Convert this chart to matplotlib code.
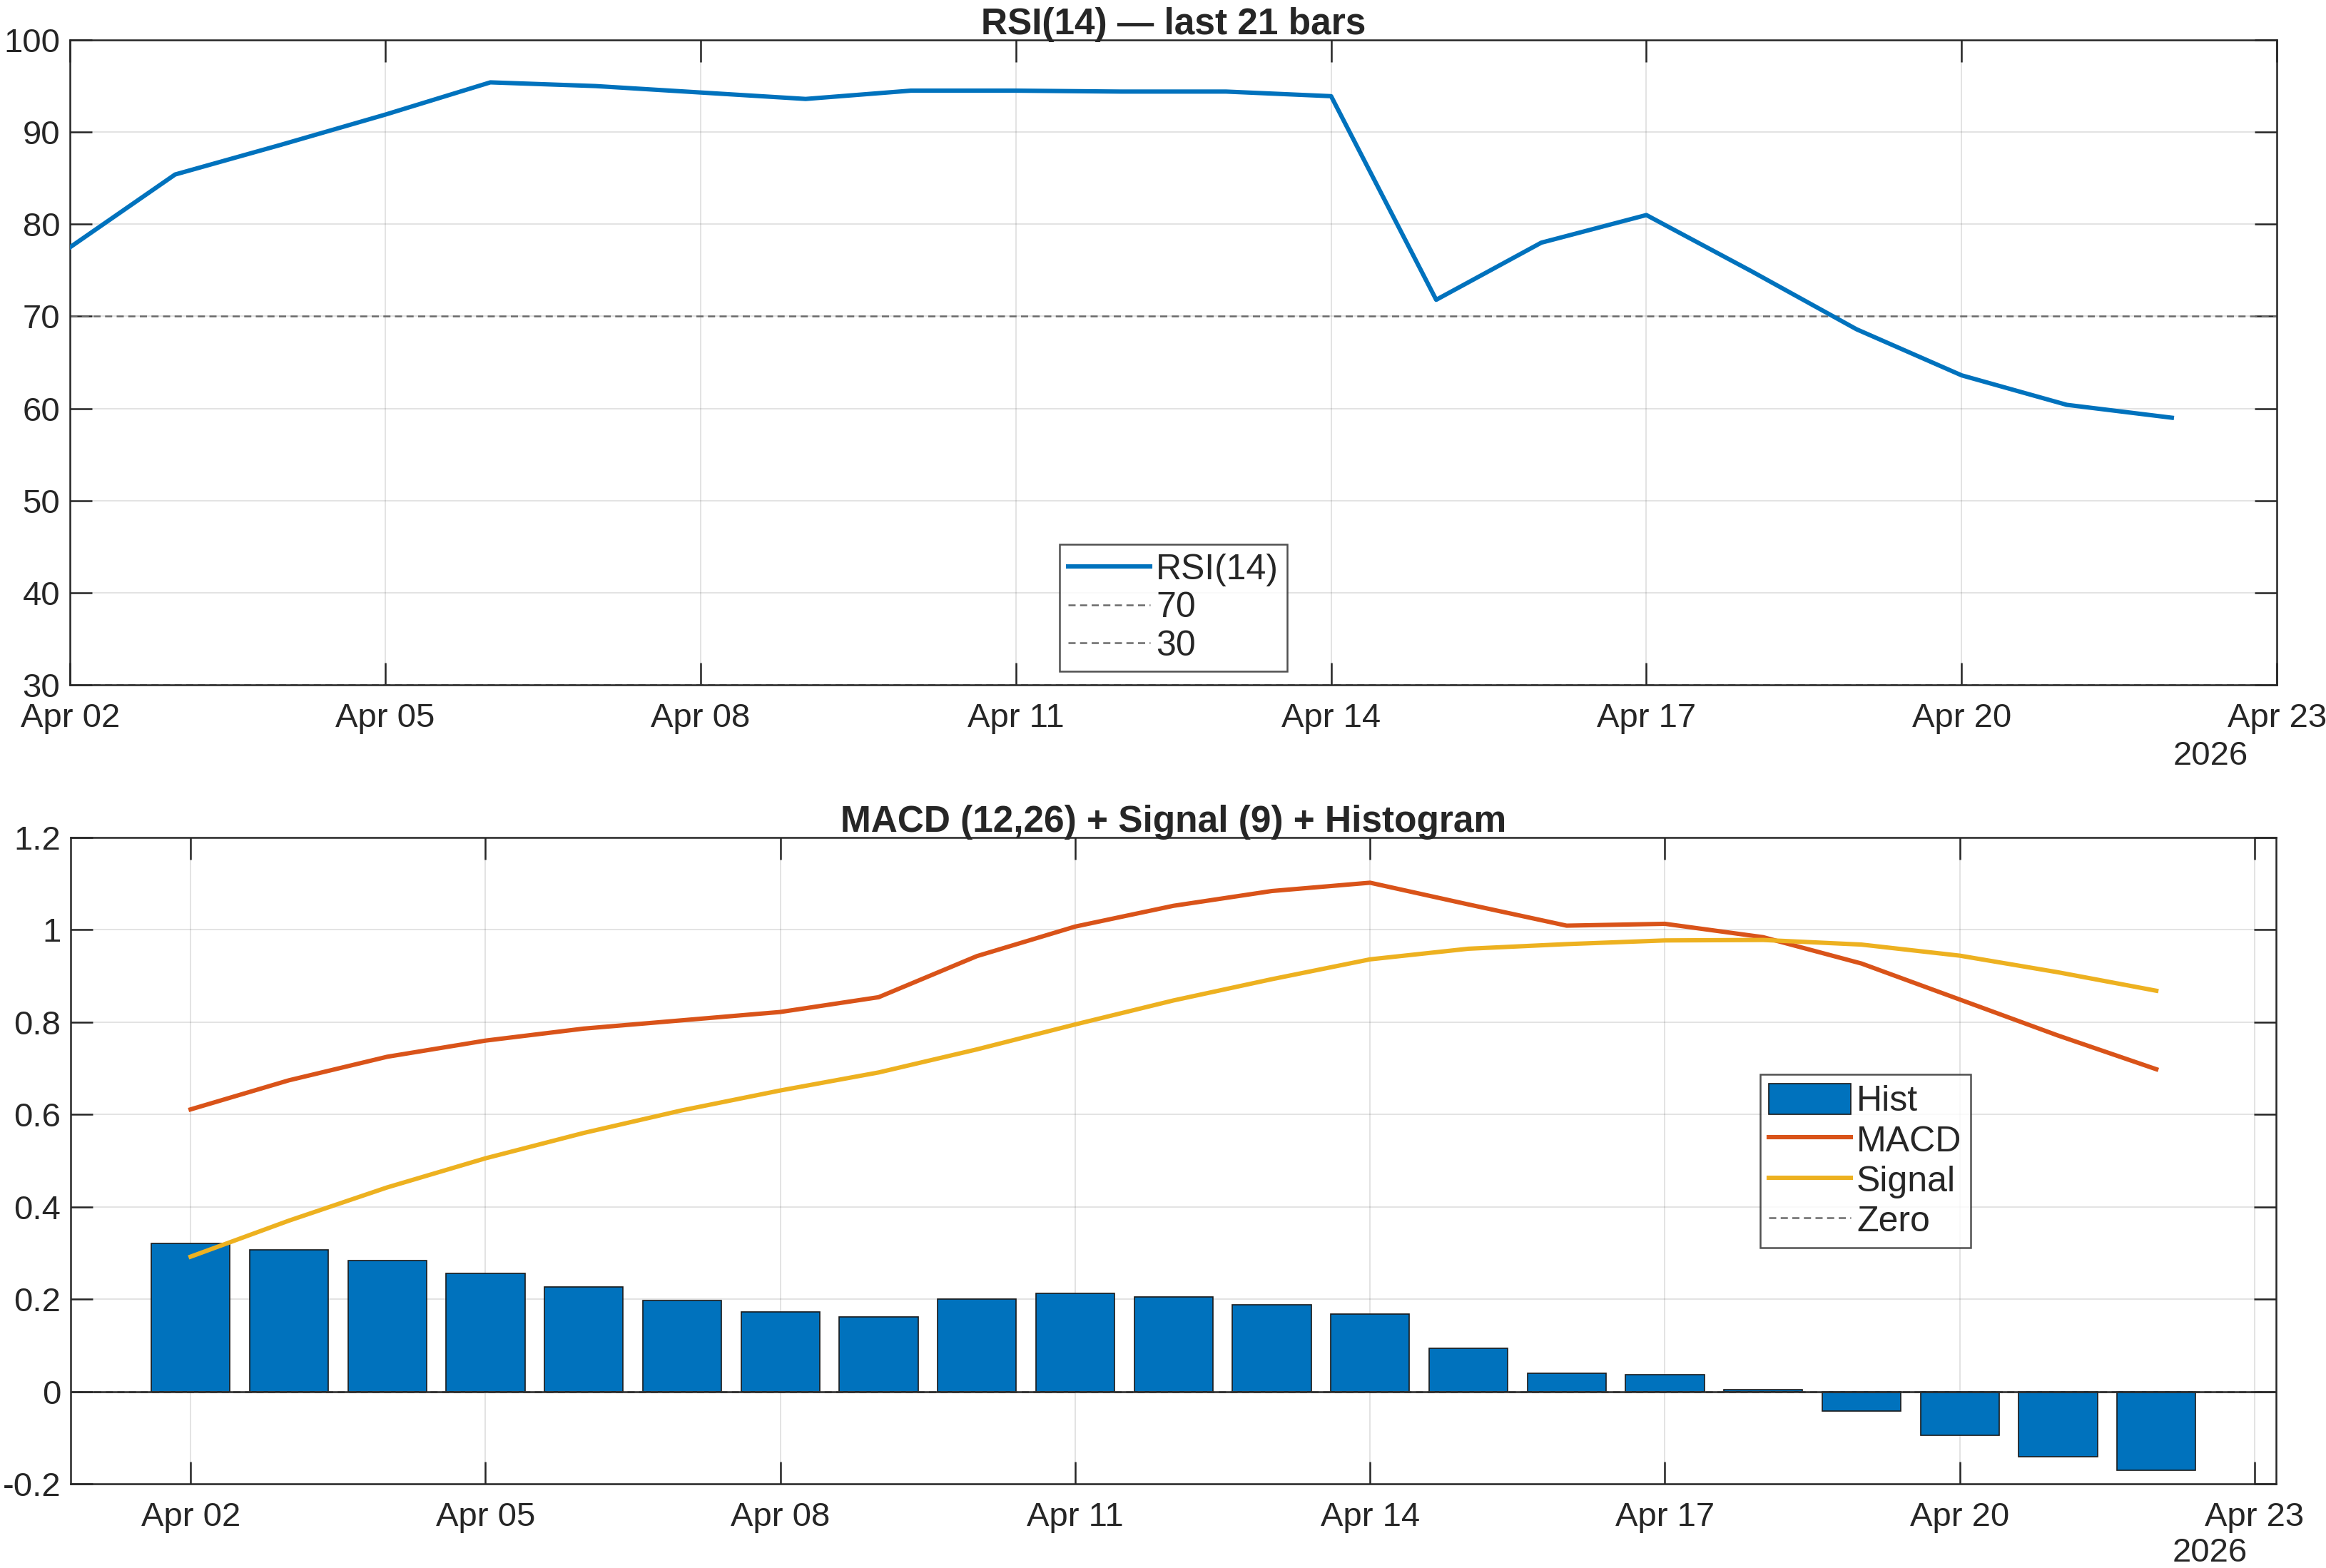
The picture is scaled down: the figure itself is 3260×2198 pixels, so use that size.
import numpy as np
import matplotlib
matplotlib.use("Agg")
import matplotlib.pyplot as plt
import matplotlib.dates as mdates

dates = ["2026-04-02", "2026-04-03", "2026-04-04", "2026-04-05", "2026-04-06",
         "2026-04-07", "2026-04-08", "2026-04-09", "2026-04-10", "2026-04-11",
         "2026-04-12", "2026-04-13", "2026-04-14", "2026-04-15", "2026-04-16",
         "2026-04-17", "2026-04-18", "2026-04-19", "2026-04-20", "2026-04-21",
         "2026-04-22"]

rsi = [77.5, 85.4, 88.6, 91.9, 95.4, 95.0, 94.3, 93.6, 94.5, 94.5,
       94.4, 94.4, 93.9, 71.8, 78.0, 81.0, 74.9, 68.6, 63.6, 60.4, 59.0]

macd = [0.611, 0.674, 0.725, 0.760, 0.786, 0.804, 0.822, 0.854, 0.943, 1.007,
        1.052, 1.084, 1.102, 1.055, 1.009, 1.013, 0.984, 0.927, 0.849, 0.771, 0.698]

signal = [0.292, 0.370, 0.442, 0.505, 0.560, 0.609, 0.652, 0.691, 0.741, 0.795,
          0.847, 0.893, 0.936, 0.959, 0.969, 0.977, 0.978, 0.968, 0.944, 0.908, 0.868]

hist = [0.321, 0.307, 0.284, 0.256, 0.227, 0.197, 0.172, 0.162, 0.200, 0.212,
        0.205, 0.188, 0.167, 0.094, 0.040, 0.036, 0.004, -0.043, -0.095, -0.142, -0.171]

tick_dates = ["2026-04-02", "2026-04-05", "2026-04-08", "2026-04-11", "2026-04-14",
              "2026-04-17", "2026-04-20", "2026-04-23"]
rsi_levels = [70, 30]
rsi_yticks = [30, 40, 50, 60, 70, 80, 90, 100]
macd_yticks = [-0.2, 0, 0.2, 0.4, 0.6, 0.8, 1, 1.2]
macd_yticklabels = ["-0.2", "0", "0.2", "0.4", "0.6", "0.8", "1", "1.2"]

plt.rcParams['font.family'] = ['Liberation Sans', 'DejaVu Sans']

C_BLUE = '#0072BD'
C_ORANGE = '#D95319'
C_YELLOW = '#EDB120'
C_AX = '#262626'
C_REF = '#6b6b6b'

x = np.array(dates, dtype='datetime64[D]').astype('datetime64[ns]')
xt = np.array(tick_dates, dtype='datetime64[D]').astype('datetime64[ns]')
xnum = mdates.date2num(x)
xtnum = mdates.date2num(xt)

fig = plt.figure(figsize=(16.3, 10.99), dpi=200)
ax1 = fig.add_axes([0.0301, 0.5632, 0.9488, 0.4113])
ax2 = fig.add_axes([0.0304, 0.0537, 0.9482, 0.4122])

TICKFS = 17
LEGFS = 18
TITLEFS = 18.5
LW = 2.2


def style(ax):
    for s in ax.spines.values():
        s.set_color(C_AX)
        s.set_linewidth(0.9)
    ax.tick_params(direction='in', length=11, width=0.9, color=C_AX,
                   labelsize=TICKFS, labelcolor=C_AX, top=True, right=True,
                   pad=9)
    ax.tick_params(axis='y', pad=5)
    ax.grid(True, color=C_AX, alpha=0.15, linewidth=0.6)
    ax.set_axisbelow(True)
    ax.set_xticks(xtnum)
    ax.xaxis.set_major_formatter(mdates.DateFormatter('%b %d'))


def style_legend(leg):
    leg.get_frame().set_edgecolor(C_AX)
    leg.get_frame().set_linewidth(0.9)
    for t in leg.get_texts():
        t.set_color(C_AX)


# ---- RSI ----
style(ax1)
ax1.plot(xnum, rsi, color=C_BLUE, lw=LW, label='RSI(14)', zorder=3)
for lv in rsi_levels:
    ax1.axhline(lv, color=C_REF, lw=0.9, ls=(0, (4, 2.5)), label=str(lv), zorder=2)
ax1.set_xlim(xtnum[0], xtnum[-1])
ax1.set_ylim(30, 100)
ax1.set_yticks(rsi_yticks)
ax1.set_title('RSI(14) \u2014 last 21 bars', fontsize=TITLEFS, fontweight='bold',
              color=C_AX, pad=3)
ax1.text(0.987, -0.111, '2026', transform=ax1.transAxes, ha='right',
         va='center', fontsize=TICKFS, color=C_AX)
leg1 = ax1.legend(loc='lower center', bbox_to_anchor=(0.5, 0.021),
                  fontsize=LEGFS, frameon=True, fancybox=False, handlelength=2.3,
                  handletextpad=0.15, borderpad=0.25, labelspacing=0.15,
                  borderaxespad=0)
style_legend(leg1)

# ---- MACD ----
style(ax2)
hb = ax2.bar(xnum, hist, width=0.8, color=C_BLUE, edgecolor='#1a1a1a', linewidth=0.6,
             label='Hist', zorder=2)
hm, = ax2.plot(xnum, macd, color=C_ORANGE, lw=LW, label='MACD', zorder=4)
hs, = ax2.plot(xnum, signal, color=C_YELLOW, lw=LW, label='Signal', zorder=4)
hz = ax2.axhline(0, color=C_REF, lw=0.9, ls=(0, (4, 2.5)), label='Zero', zorder=3)
ax2.axhline(0, color=C_AX, lw=0.9, zorder=3.5)
ax2.set_xlim(xtnum[0] - 1.22, xtnum[-1] + 0.22)
ax2.set_ylim(-0.2, 1.2)
ax2.set_yticks(macd_yticks)
ax2.set_yticklabels(macd_yticklabels)
ax2.set_title('MACD (12,26) + Signal (9) + Histogram', fontsize=TITLEFS,
              fontweight='bold', color=C_AX, pad=3)
ax2.text(0.987, -0.107, '2026', transform=ax2.transAxes, ha='right',
         va='center', fontsize=TICKFS, color=C_AX)
leg2 = ax2.legend([hb, hm, hs, hz], ['Hist', 'MACD', 'Signal', 'Zero'],
                  loc='center left', bbox_to_anchor=(0.766, 0.4995),
                  fontsize=LEGFS, frameon=True, fancybox=False, handlelength=2.3,
                  handletextpad=0.15, borderpad=0.25, labelspacing=0.15,
                  borderaxespad=0, handleheight=0.95)
style_legend(leg2)

fig.savefig('out.png', dpi=200)
